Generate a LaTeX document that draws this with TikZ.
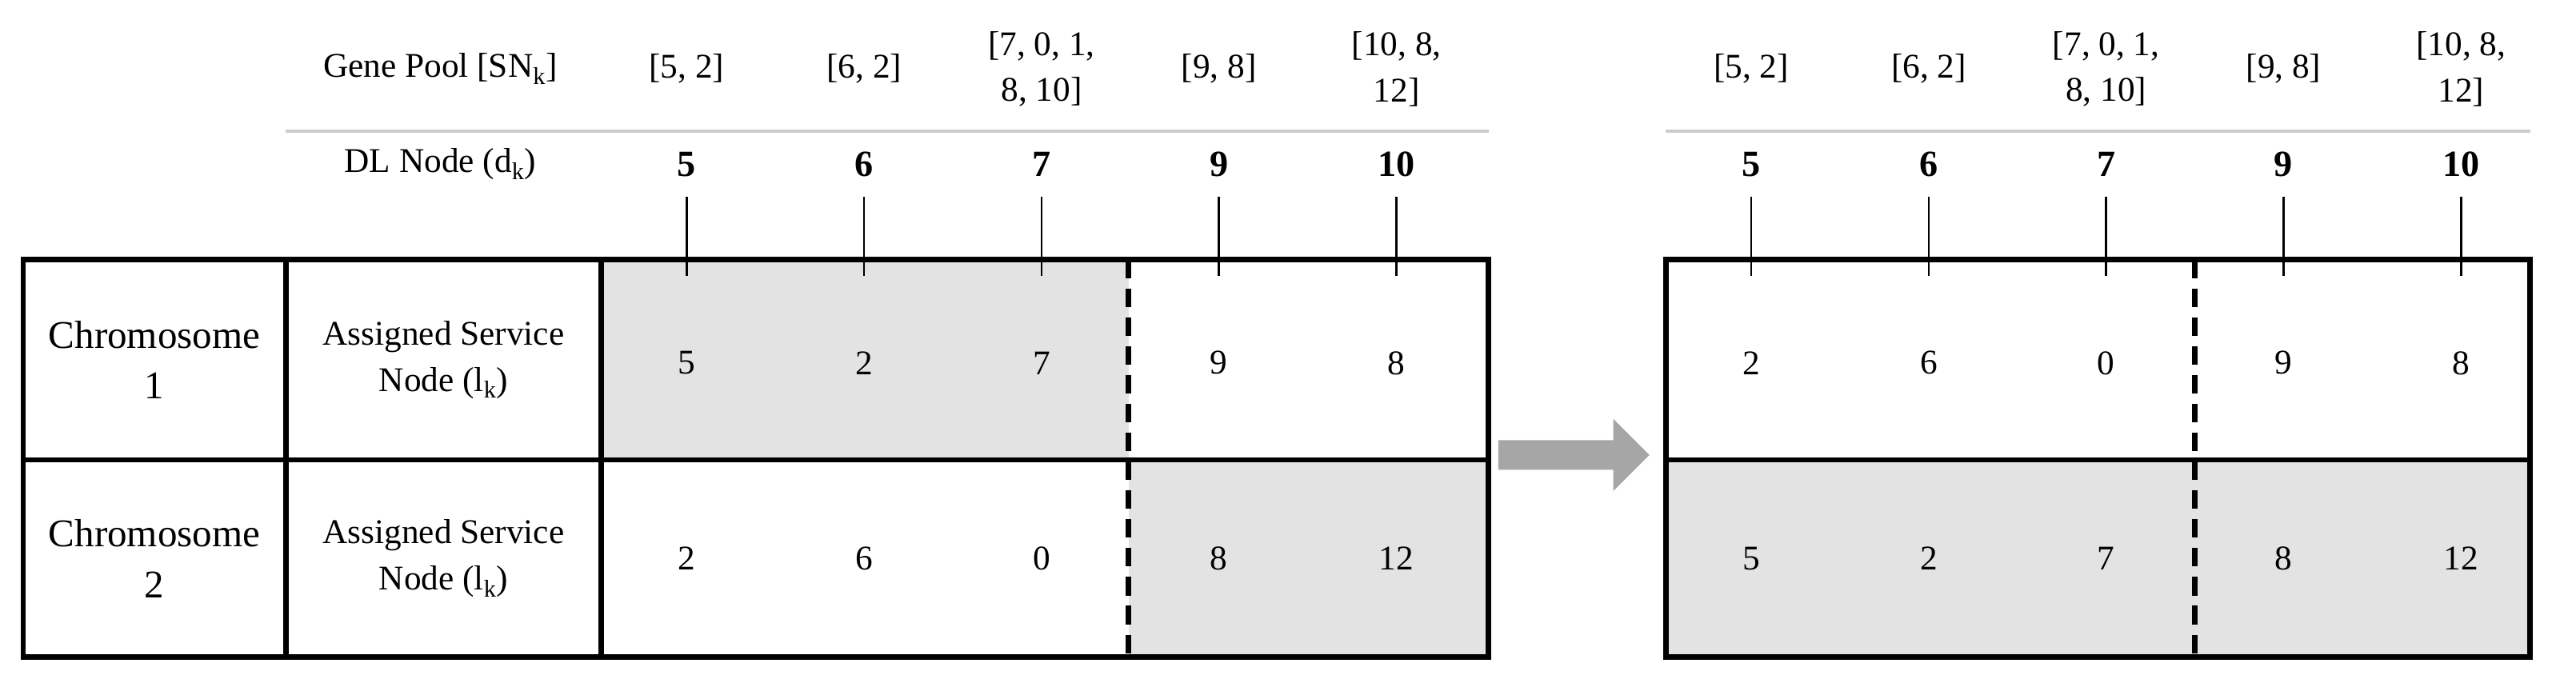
\documentclass[tikz,border=0pt]{standalone}
\usepackage{fontspec}
\setmainfont{Liberation Serif}
\begin{document}
\begin{tikzpicture}[x=0.05cm,y=-0.05cm,
  txt/.style={font=\fontsize{34}{44}\selectfont, align=center, inner sep=0pt},
  hd/.style={font=\fontsize{30}{40}\selectfont, align=center, inner sep=0pt},
  bn/.style={font=\fontsize{32}{40}\selectfont\bfseries, inner sep=0pt},
  brd/.style={line width=4.5pt},
  tk/.style={line width=1.8pt},
  dsh/.style={line width=5pt, dash pattern=on 16pt off 9pt},
  shade/.style={fill=black!11}]
\useasboundingbox (0,0) rectangle (1568,418);
% left table
\fill[shade] (366,158) rectangle (687,280);
\fill[shade] (687,280) rectangle (906,400);
\draw[brd] (14,158) rectangle (906,400);
\draw[brd] (174,158) -- (174,400);
\draw[brd] (366,158) -- (366,400);
\draw[line width=3.5pt] (14,280) -- (906,280);
\draw[dsh] (687,158) -- (687,400);
\draw[line width=2.5pt, black!20] (174,80) -- (906,80);
\node[hd] (gp) at (268,42) {Gene Pool [SN\textsubscript{k}]};
\node[hd] (dl) at (268,100) {DL Node (d\textsubscript{k})};
\node[txt] (c1) at (94,219) {Chromosome\\1};
\node[txt] (c2) at (94,340) {Chromosome\\2};
\node[hd] (a1) at (270,219) {Assigned Service\\Node (l\textsubscript{k})};
\node[hd] (a2) at (270,340) {Assigned Service\\Node (l\textsubscript{k})};
\foreach \x/\g/\d/\p/\q [count=\i] in {418/{[5, 2]}/5/5/2, 526/{[6, 2]}/6/2/6, 634/{[7, 0, 1,\\8, 10]}/7/7/0, 742/{[9, 8]}/9/9/8, 850/{[10, 8,\\12]}/10/8/12}{
  \node[hd] (lg\i) at (\x,42) {\g};
  \node[bn] (ld\i) at (\x,100) {\d};
  \coordinate (lt\i) at (\x,120);
  \coordinate (lb\i) at (\x,168);
  \draw[tk] (lt\i) -- (lb\i);
  \node[hd] (lp\i) at (\x,221) {\p};
  \node[hd] (lq\i) at (\x,340) {\q};
}
% arrow
\fill[black!35] (912,268) -- (982,268) -- (982,255) -- (1004,277) -- (982,299) -- (982,286) -- (912,286) -- cycle;
% right table
\fill[shade] (1014,280) rectangle (1540,400);
\draw[brd] (1014,158) rectangle (1540,400);
\draw[line width=3.5pt] (1014,280) -- (1540,280);
\draw[dsh] (1336,158) -- (1336,400);
\draw[line width=2.5pt, black!20] (1014,80) -- (1540,80);
\foreach \x/\g/\d/\p/\q [count=\i] in {1066/{[5, 2]}/5/2/5, 1174/{[6, 2]}/6/6/2, 1282/{[7, 0, 1,\\8, 10]}/7/0/7, 1390/{[9, 8]}/9/9/8, 1498/{[10, 8,\\12]}/10/8/12}{
  \node[hd] (rg\i) at (\x,42) {\g};
  \node[bn] (rd\i) at (\x,100) {\d};
  \coordinate (rt\i) at (\x,120);
  \coordinate (rb\i) at (\x,168);
  \draw[tk] (rt\i) -- (rb\i);
  \node[hd] (rp\i) at (\x,221) {\p};
  \node[hd] (rq\i) at (\x,340) {\q};
}
\end{tikzpicture}
\end{document}
